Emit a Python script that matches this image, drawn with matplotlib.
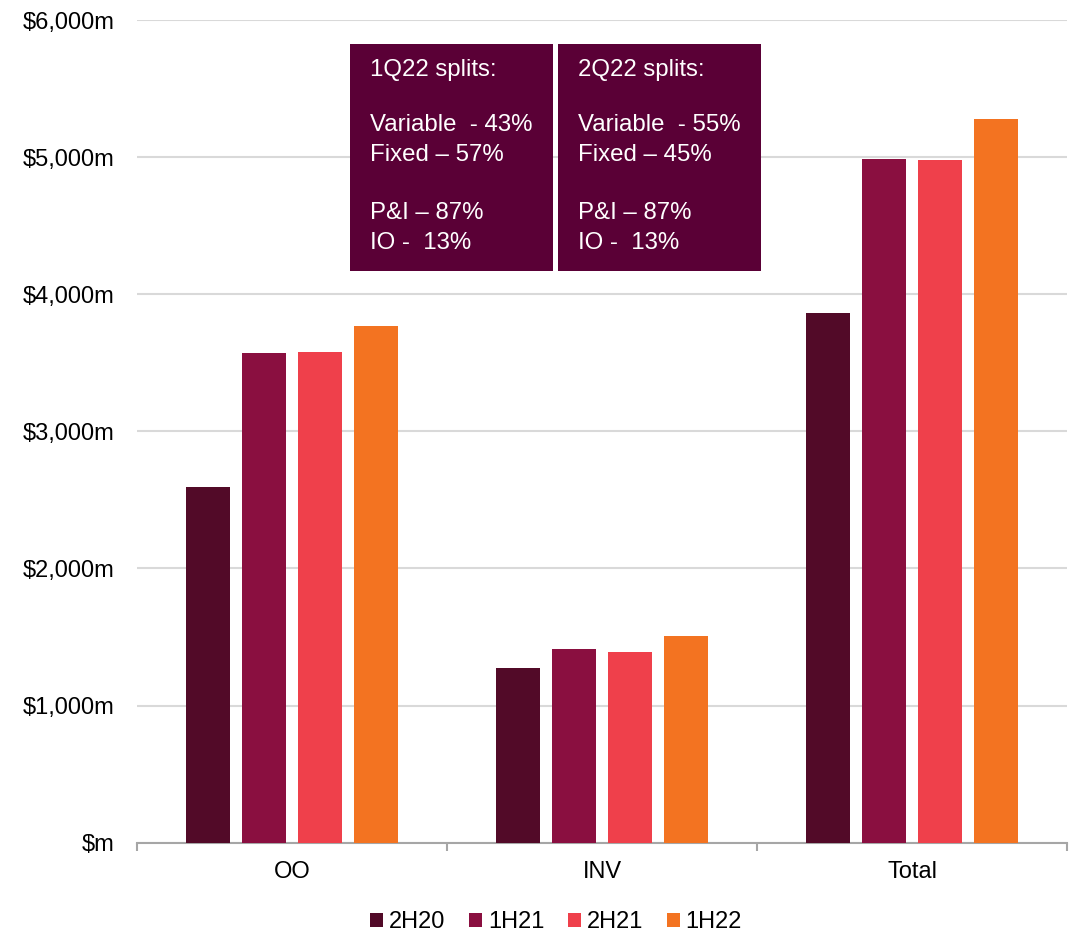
import numpy as np
import matplotlib.pyplot as plt
from matplotlib.patches import Rectangle
from matplotlib.ticker import FuncFormatter

plt.rcParams['font.family'] = ['Liberation Sans', 'DejaVu Sans']

categories = ["OO", "INV", "Total"]
periods = ["2H20", "1H21", "2H21", "1H22"]
values = {
    "2H20": [2592, 1274, 3865],
    "1H21": [3571, 1413, 4990],
    "2H21": [3576, 1391, 4978],
    "1H22": [3771, 1508, 5276],
}
colors = ["#520a28", "#8a0f40", "#ef404b", "#f37321"]

box_titles = ["1Q22 splits:", "2Q22 splits:"]
box_lines = [
    ["Variable  - 43%", "Fixed \u2013 57%", "P&I \u2013 87%", "IO -  13%"],
    ["Variable  - 55%", "Fixed \u2013 45%", "P&I \u2013 87%", "IO -  13%"],
]

fig = plt.figure(figsize=(10.74, 9.36), dpi=100)
ax = fig.add_axes([0.1276, 0.0997, 0.8659, 0.8789])

x = np.arange(len(categories))
pitch, width = 0.18, 0.142
for i, (p, c) in enumerate(zip(periods, colors)):
    ax.bar(x + (i - 1.5) * pitch, values[p], width=width, color=c, label=p, zorder=3)

ax.set_xlim(-0.5, 2.5)
ax.set_ylim(0, 6000)
ax.set_yticks(np.arange(0, 6001, 1000))
ax.yaxis.set_major_formatter(FuncFormatter(lambda v, _: "$m" if v == 0 else f"${v:,.0f}m"))
ax.grid(axis="y", color="#d9d9d9", linewidth=1.5, zorder=0)
ax.tick_params(axis="y", length=0, labelsize=17, pad=16)

ax.set_xticks(x)
ax.set_xticklabels(categories)
ax.set_xticks([-0.5, 0.5, 1.5, 2.5], minor=True)
ax.tick_params(axis="x", which="major", length=0, labelsize=17, pad=13)
ax.tick_params(axis="x", which="minor", length=6, color="#a6a6a6", width=1.5)

for s in ["top", "right", "left"]:
    ax.spines[s].set_visible(False)
ax.spines["bottom"].set_color("#a6a6a6")
ax.spines["bottom"].set_linewidth(1.5)

# split commentary boxes
W, H = 1074, 936
box_x = [350, 558]
line_y = [70, 125, 155, 213, 243]
for bx, title, lines in zip(box_x, box_titles, box_lines):
    fig.patches.append(Rectangle((bx / W, 1 - 271 / H), 203 / W, 227 / H,
                                 transform=fig.transFigure, facecolor="#5a0036",
                                 edgecolor="none", zorder=5))
    for txt, y in zip([title] + lines, line_y):
        fig.text((bx + 20) / W, 1 - y / H, txt, color="white", fontsize=17.3,
                 va="center", ha="left", zorder=6)

fig.legend(loc="center", bbox_to_anchor=(556 / W, 1 - 922 / H), ncol=4, frameon=False,
           fontsize=17, handlelength=0.55, handleheight=0.55, handletextpad=0.25,
           columnspacing=1.0, borderpad=0)

fig.savefig("out.png", dpi=100)
